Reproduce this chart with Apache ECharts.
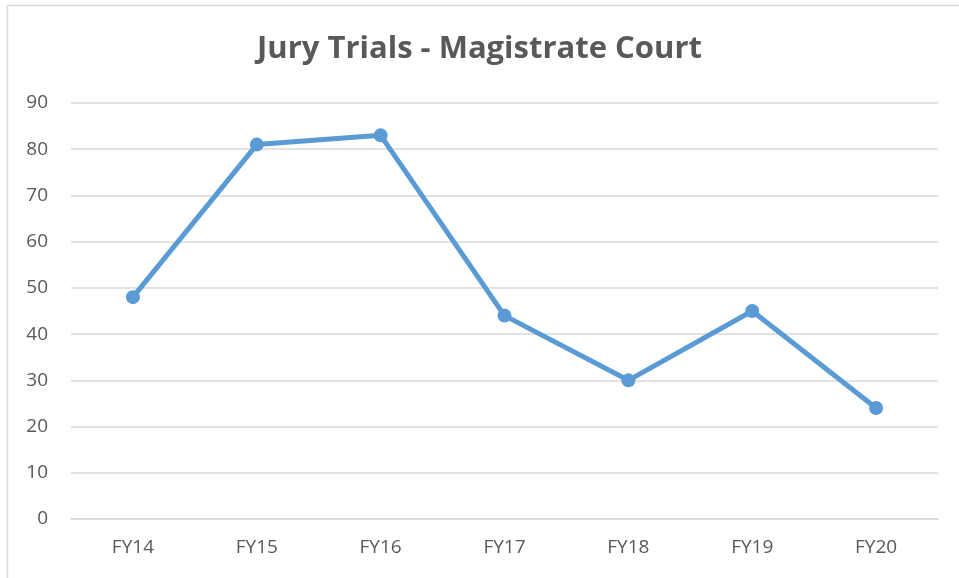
<!DOCTYPE html>
<html>
<head>
<meta charset="utf-8">
<script src="https://cdn.jsdelivr.net/npm/echarts@6/dist/echarts.min.js"></script>
<style>
  html, body { margin: 0; padding: 0; background: #fff; }
  #chart { width: 959px; height: 578px; }
</style>
</head>
<body>
<div id="chart"></div>
<script>
const categories = ["FY14", "FY15", "FY16", "FY17", "FY18", "FY19", "FY20"];
const trials = [48, 81, 83, 44, 30, 45, 24];
const titleText = "Jury Trials - Magistrate Court";

const chart = echarts.init(document.getElementById("chart"));
const textColor = "#595959";

chart.setOption({
  backgroundColor: "#fff",
  animation: false,
  graphic: [{
    type: "rect",
    shape: { x: 7.5, y: 5.5, width: 960, height: 600 },
    style: { fill: "none", stroke: "#d9d9d9", lineWidth: 1.5 },
    silent: true
  }],
  title: {
    text: titleText,
    left: "center",
    top: 29,
    textStyle: {
      fontFamily: "Open Sans",
      fontWeight: "bold",
      fontSize: 31,
      color: textColor
    }
  },
  grid: { left: 71, right: 21, top: 103, bottom: 59, containLabel: false },
  xAxis: {
    type: "category",
    data: categories,
    boundaryGap: true,
    axisLine: { show: true, lineStyle: { color: "#d9d9d9", width: 1.5 } },
    axisTick: { show: false },
    axisLabel: { color: textColor, fontSize: 19, fontFamily: "Open Sans", margin: 19 }
  },
  yAxis: {
    type: "value",
    min: 0,
    max: 90,
    interval: 10,
    axisLine: { show: false },
    axisTick: { show: false },
    axisLabel: { color: textColor, fontSize: 19, fontFamily: "Open Sans", margin: 23 },
    splitLine: { lineStyle: { color: "#d9d9d9", width: 1.5 } }
  },
  series: [{
    type: "line",
    data: trials,
    symbol: "circle",
    symbolSize: 14,
    lineStyle: { color: "#5b9bd5", width: 5 },
    itemStyle: { color: "#5b9bd5" }
  }]
});
</script>
</body>
</html>
